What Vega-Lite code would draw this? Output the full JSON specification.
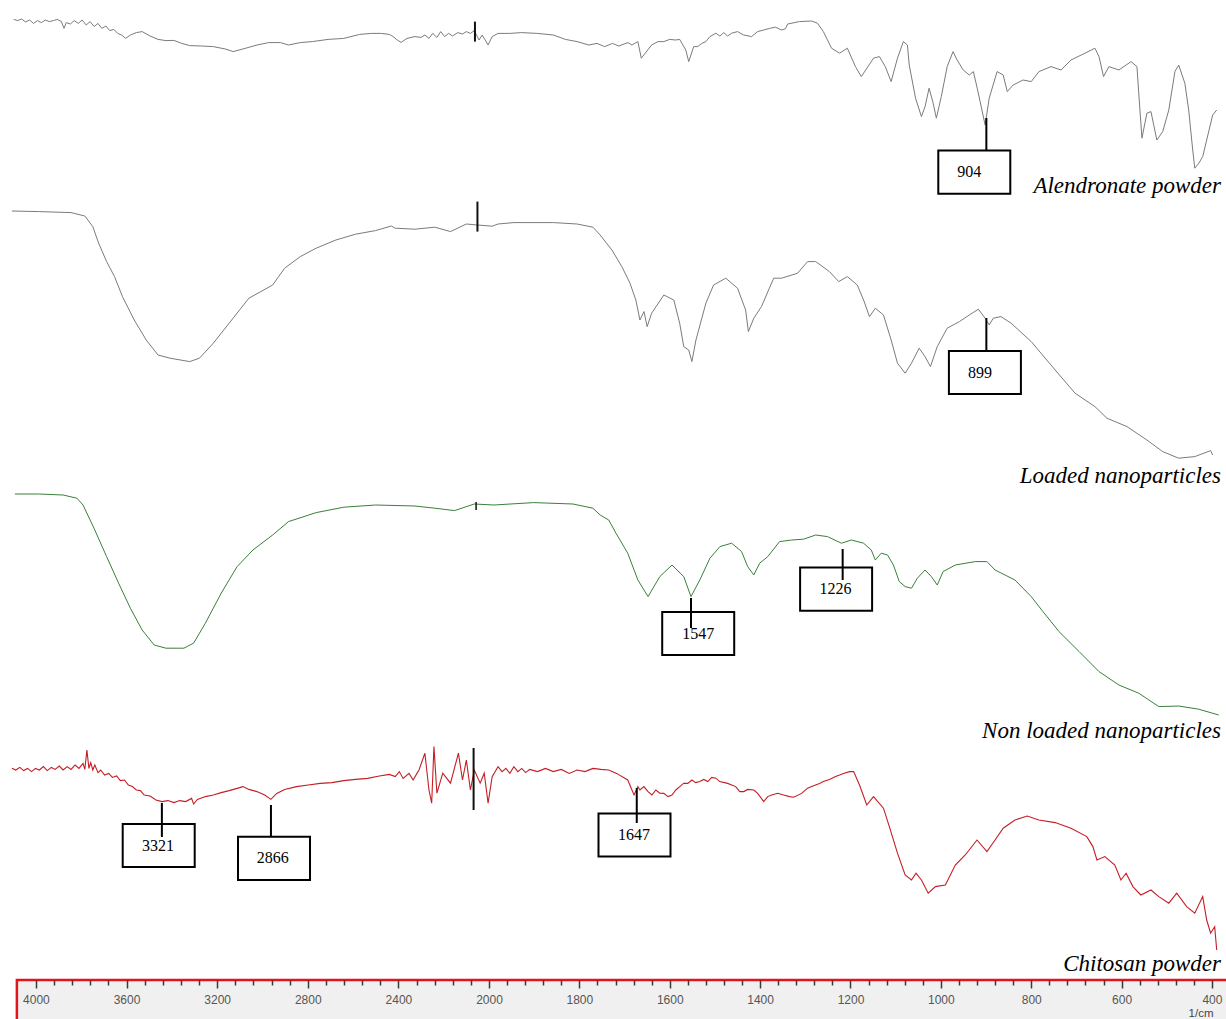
{
  "$schema": "https://vega.github.io/schema/vega-lite/v6.json",
  "width": 1226,
  "height": 1019,
  "autosize": {"type": "fit", "contains": "padding"},
  "padding": 0,
  "background": "white",
  "config": {"view": {"stroke": null}},
  "datasets": {
    "spectra": [
      {"s":"ALN","wn":4098,"t":90.3},{"s":"ALN","wn":4080,"t":89.7},{"s":"ALN","wn":4063,"t":90.5},{"s":"ALN","wn":4045,"t":89},{"s":"ALN","wn":4028,"t":90},{"s":"ALN","wn":4011,"t":88.3},{"s":"ALN","wn":3993,"t":89.7},{"s":"ALN","wn":3976,"t":88.7},{"s":"ALN","wn":3958,"t":90},{"s":"ALN","wn":3941,"t":89.2},{"s":"ALN","wn":3923,"t":89.7},{"s":"ALN","wn":3906,"t":90.3},{"s":"ALN","wn":3888,"t":89.3},{"s":"ALN","wn":3876,"t":85.8},{"s":"ALN","wn":3866,"t":88.7},{"s":"ALN","wn":3848,"t":88},{"s":"ALN","wn":3831,"t":89.7},{"s":"ALN","wn":3813,"t":88.3},{"s":"ALN","wn":3796,"t":90},{"s":"ALN","wn":3778,"t":87.5},{"s":"ALN","wn":3761,"t":89.2},{"s":"ALN","wn":3743,"t":86.7},{"s":"ALN","wn":3726,"t":88.3},{"s":"ALN","wn":3709,"t":85.8},{"s":"ALN","wn":3691,"t":87},{"s":"ALN","wn":3674,"t":84.7},{"s":"ALN","wn":3656,"t":85.3},{"s":"ALN","wn":3639,"t":83.3},{"s":"ALN","wn":3622,"t":82.5},{"s":"ALN","wn":3604,"t":80.8},{"s":"ALN","wn":3583,"t":82.5},{"s":"ALN","wn":3557,"t":83.7},{"s":"ALN","wn":3531,"t":84.2},{"s":"ALN","wn":3496,"t":82},{"s":"ALN","wn":3461,"t":80.3},{"s":"ALN","wn":3426,"t":79.7},{"s":"ALN","wn":3391,"t":79.8},{"s":"ALN","wn":3356,"t":78.3},{"s":"ALN","wn":3321,"t":77.2},{"s":"ALN","wn":3269,"t":77},{"s":"ALN","wn":3217,"t":76.7},{"s":"ALN","wn":3164,"t":75.5},{"s":"ALN","wn":3129,"t":74.2},{"s":"ALN","wn":3077,"t":75.8},{"s":"ALN","wn":3024,"t":77.5},{"s":"ALN","wn":2972,"t":78.7},{"s":"ALN","wn":2920,"t":78.7},{"s":"ALN","wn":2885,"t":77.5},{"s":"ALN","wn":2833,"t":78.7},{"s":"ALN","wn":2780,"t":79.2},{"s":"ALN","wn":2710,"t":80.3},{"s":"ALN","wn":2641,"t":80.8},{"s":"ALN","wn":2571,"t":82.8},{"s":"ALN","wn":2519,"t":83.3},{"s":"ALN","wn":2475,"t":83.3},{"s":"ALN","wn":2440,"t":82.8},{"s":"ALN","wn":2423,"t":81.7},{"s":"ALN","wn":2405,"t":80},{"s":"ALN","wn":2388,"t":78.8},{"s":"ALN","wn":2362,"t":80.8},{"s":"ALN","wn":2327,"t":81.7},{"s":"ALN","wn":2300,"t":81.3},{"s":"ALN","wn":2283,"t":82.5},{"s":"ALN","wn":2265,"t":80.8},{"s":"ALN","wn":2248,"t":83.3},{"s":"ALN","wn":2230,"t":81.3},{"s":"ALN","wn":2213,"t":84.2},{"s":"ALN","wn":2196,"t":81.7},{"s":"ALN","wn":2178,"t":83.3},{"s":"ALN","wn":2161,"t":82},{"s":"ALN","wn":2138,"t":83.7},{"s":"ALN","wn":2117,"t":83},{"s":"ALN","wn":2100,"t":84.2},{"s":"ALN","wn":2082,"t":83.3},{"s":"ALN","wn":2065,"t":84.7},{"s":"ALN","wn":2044,"t":80},{"s":"ALN","wn":2030,"t":82.5},{"s":"ALN","wn":2004,"t":77.5},{"s":"ALN","wn":1993,"t":81.7},{"s":"ALN","wn":1980,"t":83.3},{"s":"ALN","wn":1954,"t":83.3},{"s":"ALN","wn":1928,"t":83.7},{"s":"ALN","wn":1893,"t":83.3},{"s":"ALN","wn":1857.5,"t":82.5},{"s":"ALN","wn":1831,"t":80.3},{"s":"ALN","wn":1805,"t":79.2},{"s":"ALN","wn":1779,"t":77.5},{"s":"ALN","wn":1761,"t":78.3},{"s":"ALN","wn":1744,"t":76.7},{"s":"ALN","wn":1726.5,"t":78.3},{"s":"ALN","wn":1713,"t":77},{"s":"ALN","wn":1692.5,"t":78.7},{"s":"ALN","wn":1683.6,"t":77.5},{"s":"ALN","wn":1670.5,"t":79.2},{"s":"ALN","wn":1663,"t":70.9},{"s":"ALN","wn":1640,"t":77.5},{"s":"ALN","wn":1626,"t":79.2},{"s":"ALN","wn":1613,"t":79.2},{"s":"ALN","wn":1600,"t":80.3},{"s":"ALN","wn":1587,"t":80},{"s":"ALN","wn":1578,"t":80.3},{"s":"ALN","wn":1564.5,"t":75},{"s":"ALN","wn":1558,"t":69.2},{"s":"ALN","wn":1547,"t":76.7},{"s":"ALN","wn":1538,"t":76.7},{"s":"ALN","wn":1529,"t":78.3},{"s":"ALN","wn":1520,"t":79.2},{"s":"ALN","wn":1511,"t":81.7},{"s":"ALN","wn":1498,"t":83.4},{"s":"ALN","wn":1489,"t":82},{"s":"ALN","wn":1480.4,"t":83.7},{"s":"ALN","wn":1472,"t":82},{"s":"ALN","wn":1463,"t":83.4},{"s":"ALN","wn":1450,"t":84.2},{"s":"ALN","wn":1436.5,"t":82.5},{"s":"ALN","wn":1419,"t":81.7},{"s":"ALN","wn":1405.5,"t":84.2},{"s":"ALN","wn":1392,"t":85},{"s":"ALN","wn":1379,"t":85.8},{"s":"ALN","wn":1366,"t":86.4},{"s":"ALN","wn":1352.5,"t":85},{"s":"ALN","wn":1344,"t":85.6},{"s":"ALN","wn":1339,"t":88},{"s":"ALN","wn":1313,"t":89.2},{"s":"ALN","wn":1286,"t":89.5},{"s":"ALN","wn":1273,"t":88.4},{"s":"ALN","wn":1260,"t":84.2},{"s":"ALN","wn":1242,"t":75.9},{"s":"ALN","wn":1224,"t":73.4},{"s":"ALN","wn":1207,"t":75.9},{"s":"ALN","wn":1189,"t":66.7},{"s":"ALN","wn":1176,"t":61.7},{"s":"ALN","wn":1149,"t":70.9},{"s":"ALN","wn":1136,"t":71.7},{"s":"ALN","wn":1123,"t":66.7},{"s":"ALN","wn":1110,"t":59.2},{"s":"ALN","wn":1096,"t":70.9},{"s":"ALN","wn":1083,"t":79.2},{"s":"ALN","wn":1074,"t":77.5},{"s":"ALN","wn":1070,"t":67.5},{"s":"ALN","wn":1056,"t":50.9},{"s":"ALN","wn":1043,"t":41.7},{"s":"ALN","wn":1035,"t":46.7},{"s":"ALN","wn":1026,"t":55.9},{"s":"ALN","wn":1017,"t":48.4},{"s":"ALN","wn":1010,"t":40.9},{"s":"ALN","wn":999,"t":51.7},{"s":"ALN","wn":986,"t":66.7},{"s":"ALN","wn":973,"t":74.2},{"s":"ALN","wn":964,"t":70},{"s":"ALN","wn":950.5,"t":65},{"s":"ALN","wn":937,"t":62.5},{"s":"ALN","wn":928,"t":64.2},{"s":"ALN","wn":919.5,"t":55.9},{"s":"ALN","wn":902,"t":37.5},{"s":"ALN","wn":893,"t":50.9},{"s":"ALN","wn":875.5,"t":64.2},{"s":"ALN","wn":862,"t":62.5},{"s":"ALN","wn":853,"t":54.2},{"s":"ALN","wn":840,"t":57.5},{"s":"ALN","wn":818,"t":60},{"s":"ALN","wn":800,"t":59.2},{"s":"ALN","wn":783,"t":64.2},{"s":"ALN","wn":756,"t":66.7},{"s":"ALN","wn":734,"t":65},{"s":"ALN","wn":712,"t":70},{"s":"ALN","wn":681,"t":73.4},{"s":"ALN","wn":659,"t":75.9},{"s":"ALN","wn":650,"t":71.7},{"s":"ALN","wn":640,"t":61.7},{"s":"ALN","wn":628,"t":66.7},{"s":"ALN","wn":606,"t":65},{"s":"ALN","wn":579,"t":69.2},{"s":"ALN","wn":566,"t":66.7},{"s":"ALN","wn":562,"t":53.4},{"s":"ALN","wn":555,"t":30.9},{"s":"ALN","wn":544,"t":43.4},{"s":"ALN","wn":535,"t":44.2},{"s":"ALN","wn":522,"t":30},{"s":"ALN","wn":509,"t":34.2},{"s":"ALN","wn":495.5,"t":45},{"s":"ALN","wn":482,"t":64.2},{"s":"ALN","wn":473.6,"t":67.5},{"s":"ALN","wn":460,"t":58.4},{"s":"ALN","wn":451.5,"t":45},{"s":"ALN","wn":442.6,"t":25},{"s":"ALN","wn":438,"t":15.9},{"s":"ALN","wn":429,"t":18.4},{"s":"ALN","wn":420.5,"t":21.7},{"s":"ALN","wn":411.7,"t":30},{"s":"ALN","wn":398.4,"t":42.5},{"s":"ALN","wn":389.5,"t":45},
      {"s":"LNP","wn":4106,"t":139.5},{"s":"LNP","wn":3985,"t":139.2},{"s":"LNP","wn":3845,"t":138.7},{"s":"LNP","wn":3784,"t":137},{"s":"LNP","wn":3749,"t":131.7},{"s":"LNP","wn":3723,"t":123.4},{"s":"LNP","wn":3688,"t":114.2},{"s":"LNP","wn":3653,"t":106.7},{"s":"LNP","wn":3618,"t":96.7},{"s":"LNP","wn":3566,"t":85},{"s":"LNP","wn":3513,"t":75},{"s":"LNP","wn":3461,"t":67.5},{"s":"LNP","wn":3408,"t":65.9},{"s":"LNP","wn":3321,"t":64.2},{"s":"LNP","wn":3278,"t":65.9},{"s":"LNP","wn":3217,"t":73.4},{"s":"LNP","wn":3147,"t":83.4},{"s":"LNP","wn":3060,"t":95.9},{"s":"LNP","wn":3007,"t":99.2},{"s":"LNP","wn":2955,"t":102.5},{"s":"LNP","wn":2902,"t":110.9},{"s":"LNP","wn":2833,"t":116.7},{"s":"LNP","wn":2763,"t":120.9},{"s":"LNP","wn":2676,"t":125},{"s":"LNP","wn":2589,"t":127.9},{"s":"LNP","wn":2501,"t":129.7},{"s":"LNP","wn":2431,"t":132},{"s":"LNP","wn":2414,"t":130.9},{"s":"LNP","wn":2327,"t":130.4},{"s":"LNP","wn":2239,"t":131.4},{"s":"LNP","wn":2170,"t":129.2},{"s":"LNP","wn":2100,"t":133},{"s":"LNP","wn":2051,"t":132.5},{"s":"LNP","wn":1993,"t":131.9},{"s":"LNP","wn":1980,"t":133},{"s":"LNP","wn":1945,"t":133.7},{"s":"LNP","wn":1857.5,"t":133.7},{"s":"LNP","wn":1805,"t":133},{"s":"LNP","wn":1770,"t":131.4},{"s":"LNP","wn":1754,"t":127.5},{"s":"LNP","wn":1728,"t":120},{"s":"LNP","wn":1706,"t":111.7},{"s":"LNP","wn":1688,"t":103.4},{"s":"LNP","wn":1675,"t":95},{"s":"LNP","wn":1666,"t":85},{"s":"LNP","wn":1657,"t":89.2},{"s":"LNP","wn":1650,"t":81.7},{"s":"LNP","wn":1640,"t":88.4},{"s":"LNP","wn":1613,"t":97.5},{"s":"LNP","wn":1591,"t":95},{"s":"LNP","wn":1578,"t":83.4},{"s":"LNP","wn":1569,"t":71.7},{"s":"LNP","wn":1558,"t":70},{"s":"LNP","wn":1551,"t":64.2},{"s":"LNP","wn":1542,"t":75},{"s":"LNP","wn":1520,"t":93.4},{"s":"LNP","wn":1503,"t":102.5},{"s":"LNP","wn":1476,"t":105.9},{"s":"LNP","wn":1450,"t":100.9},{"s":"LNP","wn":1432,"t":90},{"s":"LNP","wn":1426,"t":79.2},{"s":"LNP","wn":1414,"t":85.9},{"s":"LNP","wn":1397,"t":91.7},{"s":"LNP","wn":1370,"t":105.9},{"s":"LNP","wn":1352.5,"t":105.9},{"s":"LNP","wn":1317,"t":108.4},{"s":"LNP","wn":1295,"t":114.2},{"s":"LNP","wn":1277,"t":114.2},{"s":"LNP","wn":1246.5,"t":109.2},{"s":"LNP","wn":1226,"t":104.2},{"s":"LNP","wn":1207,"t":106.7},{"s":"LNP","wn":1185,"t":102.5},{"s":"LNP","wn":1171,"t":95},{"s":"LNP","wn":1158,"t":86.7},{"s":"LNP","wn":1145,"t":90.9},{"s":"LNP","wn":1127,"t":87.5},{"s":"LNP","wn":1110,"t":75},{"s":"LNP","wn":1096,"t":63.4},{"s":"LNP","wn":1079,"t":58.4},{"s":"LNP","wn":1065,"t":63.4},{"s":"LNP","wn":1048,"t":70.9},{"s":"LNP","wn":1035,"t":66.7},{"s":"LNP","wn":1023,"t":61.7},{"s":"LNP","wn":1008,"t":71.7},{"s":"LNP","wn":986,"t":80.9},{"s":"LNP","wn":959,"t":84.2},{"s":"LNP","wn":937,"t":87.5},{"s":"LNP","wn":917,"t":90.4},{"s":"LNP","wn":902,"t":85.9},{"s":"LNP","wn":893,"t":82.5},{"s":"LNP","wn":884,"t":85.9},{"s":"LNP","wn":867,"t":86.7},{"s":"LNP","wn":844.5,"t":83.4},{"s":"LNP","wn":800,"t":74.2},{"s":"LNP","wn":747,"t":60},{"s":"LNP","wn":703,"t":48.4},{"s":"LNP","wn":659,"t":41.7},{"s":"LNP","wn":632.5,"t":35.9},{"s":"LNP","wn":588,"t":31.7},{"s":"LNP","wn":544,"t":25},{"s":"LNP","wn":509,"t":19.2},{"s":"LNP","wn":473.6,"t":15.9},{"s":"LNP","wn":438,"t":16.7},{"s":"LNP","wn":403,"t":19.7},{"s":"LNP","wn":398.4,"t":17.5},
      {"s":"NLNP","wn":4093,"t":126},{"s":"NLNP","wn":3985,"t":126},{"s":"NLNP","wn":3880,"t":125.5},{"s":"NLNP","wn":3819,"t":123.9},{"s":"NLNP","wn":3792,"t":120.5},{"s":"NLNP","wn":3740,"t":108},{"s":"NLNP","wn":3688,"t":94.7},{"s":"NLNP","wn":3635,"t":81.4},{"s":"NLNP","wn":3583,"t":68.9},{"s":"NLNP","wn":3531,"t":58},{"s":"NLNP","wn":3478,"t":50.5},{"s":"NLNP","wn":3426,"t":48.9},{"s":"NLNP","wn":3347,"t":48.9},{"s":"NLNP","wn":3304,"t":51.4},{"s":"NLNP","wn":3252,"t":61.4},{"s":"NLNP","wn":3182,"t":76.4},{"s":"NLNP","wn":3112,"t":89.7},{"s":"NLNP","wn":3042,"t":98},{"s":"NLNP","wn":2955,"t":105.5},{"s":"NLNP","wn":2885,"t":112.2},{"s":"NLNP","wn":2763,"t":116.7},{"s":"NLNP","wn":2641,"t":119.4},{"s":"NLNP","wn":2501,"t":120.5},{"s":"NLNP","wn":2327,"t":120},{"s":"NLNP","wn":2239,"t":118.9},{"s":"NLNP","wn":2152,"t":117.7},{"s":"NLNP","wn":2065,"t":121},{"s":"NLNP","wn":1989,"t":120.5},{"s":"NLNP","wn":1901,"t":121.7},{"s":"NLNP","wn":1814,"t":121},{"s":"NLNP","wn":1770,"t":118.9},{"s":"NLNP","wn":1754,"t":115.5},{"s":"NLNP","wn":1735,"t":113},{"s":"NLNP","wn":1719,"t":106.4},{"s":"NLNP","wn":1693,"t":96.4},{"s":"NLNP","wn":1670.5,"t":83},{"s":"NLNP","wn":1648,"t":74.7},{"s":"NLNP","wn":1622,"t":84.7},{"s":"NLNP","wn":1595,"t":90.5},{"s":"NLNP","wn":1569,"t":84.7},{"s":"NLNP","wn":1553,"t":74.7},{"s":"NLNP","wn":1533.5,"t":83},{"s":"NLNP","wn":1511,"t":93.9},{"s":"NLNP","wn":1489,"t":99.7},{"s":"NLNP","wn":1463,"t":101.4},{"s":"NLNP","wn":1441,"t":97.2},{"s":"NLNP","wn":1427.5,"t":89.7},{"s":"NLNP","wn":1414,"t":85.5},{"s":"NLNP","wn":1401,"t":91.4},{"s":"NLNP","wn":1383,"t":94.7},{"s":"NLNP","wn":1357,"t":102.2},{"s":"NLNP","wn":1330,"t":103},{"s":"NLNP","wn":1304,"t":103.4},{"s":"NLNP","wn":1277,"t":105.5},{"s":"NLNP","wn":1251,"t":104.7},{"s":"NLNP","wn":1220,"t":101.4},{"s":"NLNP","wn":1198,"t":103},{"s":"NLNP","wn":1171,"t":101.4},{"s":"NLNP","wn":1154,"t":98},{"s":"NLNP","wn":1145,"t":93},{"s":"NLNP","wn":1132,"t":96.4},{"s":"NLNP","wn":1118,"t":95.5},{"s":"NLNP","wn":1105,"t":90.5},{"s":"NLNP","wn":1092,"t":82.2},{"s":"NLNP","wn":1079,"t":79.7},{"s":"NLNP","wn":1065,"t":78.9},{"s":"NLNP","wn":1052,"t":83.9},{"s":"NLNP","wn":1035,"t":88},{"s":"NLNP","wn":1021,"t":84.7},{"s":"NLNP","wn":1008,"t":80.5},{"s":"NLNP","wn":995,"t":87.2},{"s":"NLNP","wn":968,"t":90.5},{"s":"NLNP","wn":924,"t":92.2},{"s":"NLNP","wn":898,"t":92.2},{"s":"NLNP","wn":880,"t":88},{"s":"NLNP","wn":836,"t":83},{"s":"NLNP","wn":800,"t":74.7},{"s":"NLNP","wn":774,"t":67.2},{"s":"NLNP","wn":738.5,"t":57.2},{"s":"NLNP","wn":694,"t":47.2},{"s":"NLNP","wn":650,"t":37.2},{"s":"NLNP","wn":606,"t":30.5},{"s":"NLNP","wn":562,"t":26.4},{"s":"NLNP","wn":517.6,"t":19.7},{"s":"NLNP","wn":473.6,"t":20},{"s":"NLNP","wn":429.4,"t":18.4},{"s":"NLNP","wn":385,"t":15.5},
      {"s":"CS","wn":4106,"t":105.9},{"s":"CS","wn":4089,"t":105},{"s":"CS","wn":4071,"t":106.3},{"s":"CS","wn":4054,"t":104.7},{"s":"CS","wn":4037,"t":105.8},{"s":"CS","wn":4019,"t":104.2},{"s":"CS","wn":4002,"t":105.8},{"s":"CS","wn":3985,"t":105},{"s":"CS","wn":3967,"t":106.7},{"s":"CS","wn":3950,"t":104.7},{"s":"CS","wn":3932,"t":106.3},{"s":"CS","wn":3915,"t":105.3},{"s":"CS","wn":3897,"t":107},{"s":"CS","wn":3880,"t":105},{"s":"CS","wn":3862,"t":106.7},{"s":"CS","wn":3845,"t":105.3},{"s":"CS","wn":3827,"t":107.5},{"s":"CS","wn":3810,"t":105.8},{"s":"CS","wn":3792,"t":108.3},{"s":"CS","wn":3784,"t":105.3},{"s":"CS","wn":3775,"t":115},{"s":"CS","wn":3766,"t":105.8},{"s":"CS","wn":3758,"t":108.7},{"s":"CS","wn":3749,"t":105},{"s":"CS","wn":3740,"t":107.5},{"s":"CS","wn":3726,"t":103.7},{"s":"CS","wn":3714,"t":105},{"s":"CS","wn":3697,"t":102.5},{"s":"CS","wn":3679,"t":103.3},{"s":"CS","wn":3662,"t":101.3},{"s":"CS","wn":3644,"t":102},{"s":"CS","wn":3627,"t":99.7},{"s":"CS","wn":3609,"t":100},{"s":"CS","wn":3592,"t":97.5},{"s":"CS","wn":3574,"t":96.7},{"s":"CS","wn":3557,"t":95},{"s":"CS","wn":3539,"t":94.7},{"s":"CS","wn":3522,"t":92.5},{"s":"CS","wn":3496,"t":92},{"s":"CS","wn":3470,"t":90},{"s":"CS","wn":3444,"t":89.2},{"s":"CS","wn":3417,"t":89.7},{"s":"CS","wn":3391,"t":88.7},{"s":"CS","wn":3365,"t":89.7},{"s":"CS","wn":3339,"t":89.2},{"s":"CS","wn":3313,"t":90.8},{"s":"CS","wn":3304,"t":88},{"s":"CS","wn":3287,"t":90.3},{"s":"CS","wn":3252,"t":91.7},{"s":"CS","wn":3217,"t":92.5},{"s":"CS","wn":3182,"t":93.7},{"s":"CS","wn":3147,"t":94.7},{"s":"CS","wn":3112,"t":95.8},{"s":"CS","wn":3086,"t":96.7},{"s":"CS","wn":3060,"t":95.3},{"s":"CS","wn":3025,"t":94.2},{"s":"CS","wn":2990,"t":92.5},{"s":"CS","wn":2963,"t":90.3},{"s":"CS","wn":2937,"t":93.3},{"s":"CS","wn":2902,"t":95.3},{"s":"CS","wn":2850,"t":96.7},{"s":"CS","wn":2798,"t":97.5},{"s":"CS","wn":2745,"t":98.3},{"s":"CS","wn":2693,"t":98.7},{"s":"CS","wn":2641,"t":99.7},{"s":"CS","wn":2589,"t":100.3},{"s":"CS","wn":2536,"t":100.8},{"s":"CS","wn":2484,"t":102},{"s":"CS","wn":2440,"t":102.8},{"s":"CS","wn":2414,"t":101.7},{"s":"CS","wn":2396,"t":104.2},{"s":"CS","wn":2379,"t":100.8},{"s":"CS","wn":2353,"t":103.3},{"s":"CS","wn":2335,"t":100},{"s":"CS","wn":2318,"t":103.3},{"s":"CS","wn":2309,"t":105},{"s":"CS","wn":2283,"t":113.4},{"s":"CS","wn":2265,"t":95},{"s":"CS","wn":2253,"t":88.4},{"s":"CS","wn":2243,"t":116.7},{"s":"CS","wn":2230,"t":93.4},{"s":"CS","wn":2204,"t":103.4},{"s":"CS","wn":2170,"t":98.4},{"s":"CS","wn":2135,"t":113.4},{"s":"CS","wn":2117,"t":100},{"s":"CS","wn":2100,"t":110},{"s":"CS","wn":2082,"t":95},{"s":"CS","wn":2065,"t":105},{"s":"CS","wn":2039,"t":98.4},{"s":"CS","wn":2021,"t":103.4},{"s":"CS","wn":2004,"t":88.4},{"s":"CS","wn":1993,"t":101.7},{"s":"CS","wn":1980,"t":106.7},{"s":"CS","wn":1971,"t":104.2},{"s":"CS","wn":1962.6,"t":105.8},{"s":"CS","wn":1953.8,"t":103.3},{"s":"CS","wn":1945,"t":106.7},{"s":"CS","wn":1936,"t":104.2},{"s":"CS","wn":1927.6,"t":105.8},{"s":"CS","wn":1918.8,"t":103.7},{"s":"CS","wn":1910,"t":105.3},{"s":"CS","wn":1892.7,"t":104.2},{"s":"CS","wn":1875,"t":105.8},{"s":"CS","wn":1857.5,"t":104.2},{"s":"CS","wn":1840,"t":105.3},{"s":"CS","wn":1822.5,"t":103.3},{"s":"CS","wn":1805,"t":105},{"s":"CS","wn":1787.6,"t":104.2},{"s":"CS","wn":1770,"t":105.8},{"s":"CS","wn":1752.6,"t":105.3},{"s":"CS","wn":1735,"t":105},{"s":"CS","wn":1717.6,"t":103.3},{"s":"CS","wn":1693,"t":100},{"s":"CS","wn":1679,"t":92.5},{"s":"CS","wn":1670.5,"t":96.7},{"s":"CS","wn":1666,"t":95},{"s":"CS","wn":1657.2,"t":96.7},{"s":"CS","wn":1648,"t":94.2},{"s":"CS","wn":1639.5,"t":92.5},{"s":"CS","wn":1630.7,"t":95},{"s":"CS","wn":1622,"t":93.4},{"s":"CS","wn":1613,"t":93.3},{"s":"CS","wn":1604,"t":91.7},{"s":"CS","wn":1595,"t":92.5},{"s":"CS","wn":1586.6,"t":95},{"s":"CS","wn":1577.8,"t":96.7},{"s":"CS","wn":1569,"t":98.4},{"s":"CS","wn":1560,"t":98.3},{"s":"CS","wn":1551,"t":100},{"s":"CS","wn":1542.4,"t":98.7},{"s":"CS","wn":1533.5,"t":99.2},{"s":"CS","wn":1524.7,"t":100.3},{"s":"CS","wn":1515.8,"t":99.2},{"s":"CS","wn":1507,"t":101.3},{"s":"CS","wn":1498,"t":100.9},{"s":"CS","wn":1489.3,"t":99.2},{"s":"CS","wn":1471.8,"t":98.3},{"s":"CS","wn":1463,"t":97.5},{"s":"CS","wn":1454,"t":96.7},{"s":"CS","wn":1445,"t":94.2},{"s":"CS","wn":1436,"t":94.2},{"s":"CS","wn":1427.5,"t":95.3},{"s":"CS","wn":1414,"t":95},{"s":"CS","wn":1405.4,"t":93.3},{"s":"CS","wn":1392,"t":89.2},{"s":"CS","wn":1383.3,"t":91.7},{"s":"CS","wn":1374.4,"t":92.5},{"s":"CS","wn":1361,"t":93.4},{"s":"CS","wn":1348,"t":92.5},{"s":"CS","wn":1335,"t":91.7},{"s":"CS","wn":1326,"t":91.4},{"s":"CS","wn":1308,"t":93.3},{"s":"CS","wn":1295,"t":95.9},{"s":"CS","wn":1286,"t":96.7},{"s":"CS","wn":1268.5,"t":98.3},{"s":"CS","wn":1260,"t":99.2},{"s":"CS","wn":1246.5,"t":100.3},{"s":"CS","wn":1233,"t":101.7},{"s":"CS","wn":1224,"t":102.5},{"s":"CS","wn":1215.6,"t":103.3},{"s":"CS","wn":1202,"t":104.2},{"s":"CS","wn":1193,"t":104.2},{"s":"CS","wn":1180,"t":97.5},{"s":"CS","wn":1164,"t":87.5},{"s":"CS","wn":1149,"t":91.7},{"s":"CS","wn":1127,"t":85.9},{"s":"CS","wn":1114,"t":76.7},{"s":"CS","wn":1096,"t":63.4},{"s":"CS","wn":1079,"t":52.5},{"s":"CS","wn":1065,"t":50},{"s":"CS","wn":1055,"t":53.4},{"s":"CS","wn":1043,"t":50},{"s":"CS","wn":1028,"t":43.4},{"s":"CS","wn":1012,"t":46.7},{"s":"CS","wn":990,"t":47.5},{"s":"CS","wn":968,"t":57.5},{"s":"CS","wn":946,"t":62.5},{"s":"CS","wn":920,"t":70},{"s":"CS","wn":898,"t":64.2},{"s":"CS","wn":880,"t":70},{"s":"CS","wn":862,"t":75.9},{"s":"CS","wn":836,"t":80},{"s":"CS","wn":809,"t":82},{"s":"CS","wn":783,"t":80},{"s":"CS","wn":747,"t":78.7},{"s":"CS","wn":712,"t":75.9},{"s":"CS","wn":677,"t":71.7},{"s":"CS","wn":663.5,"t":66.7},{"s":"CS","wn":654.6,"t":60},{"s":"CS","wn":637,"t":61.7},{"s":"CS","wn":615,"t":57.5},{"s":"CS","wn":601.5,"t":50},{"s":"CS","wn":590,"t":53.4},{"s":"CS","wn":575,"t":46.7},{"s":"CS","wn":557.5,"t":42.5},{"s":"CS","wn":535,"t":45},{"s":"CS","wn":517.6,"t":41.7},{"s":"CS","wn":495.5,"t":38.4},{"s":"CS","wn":478,"t":43.4},{"s":"CS","wn":456,"t":36.7},{"s":"CS","wn":438,"t":33.4},{"s":"CS","wn":420.5,"t":41.7},{"s":"CS","wn":411.7,"t":30},{"s":"CS","wn":403,"t":23.4},{"s":"CS","wn":394,"t":26.7},{"s":"CS","wn":389.5,"t":15}
    ],
    "peaks": [
      {"s":"ALN","label":"904","wn":899.3,"tip":41,"foot":25,"bx":926,"by":13.9,"tx":937},
      {"s":"LNP","label":"899","wn":899.3,"tip":86,"foot":70,"bx":902.5,"by":58.75,"tx":913.5},
      {"s":"NLNP","label":"1547","wn":1553,"tip":74,"foot":59,"bx":1537,"by":56.25,"tx":1537},
      {"s":"NLNP","label":"1226","wn":1217.3,"tip":98.5,"foot":83,"bx":1231.8,"by":78.4,"tx":1233},
      {"s":"CS","label":"3321","wn":3444,"tip":88.5,"foot":71.5,"bx":3458,"by":67.25,"tx":3461},
      {"s":"CS","label":"2866","wn":2962.5,"tip":87.5,"foot":71.5,"bx":2949,"by":60.8,"tx":2955},
      {"s":"CS","label":"1647","wn":1673,"tip":96,"foot":78.5,"bx":1678,"by":72.5,"tx":1679}
    ],
    "markers": [
      {"s":"ALN","wn":2062,"top":89.2,"bot":79.2},
      {"s":"LNP","wn":2051,"top":144.2,"bot":129.2},
      {"s":"NLNP","wn":2057,"top":122,"bot":118},
      {"s":"CS","wn":2068,"top":116,"bot":85}
    ],
    "names": [
      {"s":"ALN","name":"Alendronate powder","wn":380,"t":3.5},
      {"s":"LNP","name":"Loaded nanoparticles","wn":380,"t":3.5},
      {"s":"NLNP","name":"Non loaded nanoparticles","wn":380,"t":4},
      {"s":"CS","name":"Chitosan powder","wn":380,"t":4.5}
    ],
    "axisbox": [{"from":4084,"to":340,"top":0,"bottom":-30}]
  },
  "layer": [
    {
      "layer": [
        {"data":{"name":"spectra"},"transform":[{"filter":"datum.s==='ALN'"}],
         "mark":{"type":"line","color":"#7b7b7b","strokeWidth":1},
         "encoding":{"x":{"field":"wn","type":"quantitative","scale":{"domain":[4110,2000,380],"range":[11,489,1221],"nice":false,"zero":false},"axis":null},
                     "y":{"field":"t","type":"quantitative","scale":{"domain":[-409.5,100],"nice":false,"zero":false},"axis":null}}},
        {"data":{"name":"markers"},"transform":[{"filter":"datum.s==='ALN'"}],
         "mark":{"type":"rule","color":"#111111","strokeWidth":2},
         "encoding":{"x":{"field":"wn","type":"quantitative","scale":{"domain":[4110,2000,380],"range":[11,489,1221],"nice":false,"zero":false},"axis":null},
                     "y":{"field":"top","type":"quantitative","scale":{"domain":[-409.5,100],"nice":false,"zero":false},"axis":null},"y2":{"field":"bot"}}},
        {"data":{"name":"peaks"},"transform":[{"filter":"datum.s==='ALN'"}],
         "mark":{"type":"point","shape":"M-1,-0.6H1V0.6H-1Z","size":5184,"filled":true,"fill":"white","stroke":"black","strokeWidth":2,"opacity":1},
         "encoding":{"x":{"field":"bx","type":"quantitative","scale":{"domain":[4110,2000,380],"range":[11,489,1221],"nice":false,"zero":false},"axis":null},
                     "y":{"field":"by","type":"quantitative","scale":{"domain":[-409.5,100],"nice":false,"zero":false},"axis":null}}},
        {"data":{"name":"peaks"},"transform":[{"filter":"datum.s==='ALN'"}],
         "mark":{"type":"rule","color":"black","strokeWidth":2},
         "encoding":{"x":{"field":"wn","type":"quantitative","scale":{"domain":[4110,2000,380],"range":[11,489,1221],"nice":false,"zero":false},"axis":null},
                     "y":{"field":"tip","type":"quantitative","scale":{"domain":[-409.5,100],"nice":false,"zero":false},"axis":null},"y2":{"field":"foot"}}},
        {"data":{"name":"peaks"},"transform":[{"filter":"datum.s==='ALN'"}],
         "mark":{"type":"text","font":"Liberation Serif","fontSize":16,"align":"center","baseline":"middle","color":"black"},
         "encoding":{"x":{"field":"tx","type":"quantitative","scale":{"domain":[4110,2000,380],"range":[11,489,1221],"nice":false,"zero":false},"axis":null},
                     "y":{"field":"by","type":"quantitative","scale":{"domain":[-409.5,100],"nice":false,"zero":false},"axis":null},"text":{"field":"label"}}},
        {"data":{"name":"names"},"transform":[{"filter":"datum.s==='ALN'"}],
         "mark":{"type":"text","font":"Liberation Serif","fontSize":23,"fontStyle":"italic","align":"right","baseline":"alphabetic","color":"black"},
         "encoding":{"x":{"field":"wn","type":"quantitative","scale":{"domain":[4110,2000,380],"range":[11,489,1221],"nice":false,"zero":false},"axis":null},
                     "y":{"field":"t","type":"quantitative","scale":{"domain":[-409.5,100],"nice":false,"zero":false},"axis":null},"text":{"field":"name"}}}
      ]
    },
    {
      "layer": [
        {"data":{"name":"spectra"},"transform":[{"filter":"datum.s==='LNP'"}],
         "mark":{"type":"line","color":"#7b7b7b","strokeWidth":1},
         "encoding":{"x":{"field":"wn","type":"quantitative","scale":{"domain":[4110,2000,380],"range":[11,489,1221],"nice":false,"zero":false},"axis":null},
                     "y":{"field":"t","type":"quantitative","scale":{"domain":[-264.5,245],"nice":false,"zero":false},"axis":null}}},
        {"data":{"name":"markers"},"transform":[{"filter":"datum.s==='LNP'"}],
         "mark":{"type":"rule","color":"#111111","strokeWidth":2},
         "encoding":{"x":{"field":"wn","type":"quantitative","scale":{"domain":[4110,2000,380],"range":[11,489,1221],"nice":false,"zero":false},"axis":null},
                     "y":{"field":"top","type":"quantitative","scale":{"domain":[-264.5,245],"nice":false,"zero":false},"axis":null},"y2":{"field":"bot"}}},
        {"data":{"name":"peaks"},"transform":[{"filter":"datum.s==='LNP'"}],
         "mark":{"type":"point","shape":"M-1,-0.6H1V0.6H-1Z","size":5184,"filled":true,"fill":"white","stroke":"black","strokeWidth":2,"opacity":1},
         "encoding":{"x":{"field":"bx","type":"quantitative","scale":{"domain":[4110,2000,380],"range":[11,489,1221],"nice":false,"zero":false},"axis":null},
                     "y":{"field":"by","type":"quantitative","scale":{"domain":[-264.5,245],"nice":false,"zero":false},"axis":null}}},
        {"data":{"name":"peaks"},"transform":[{"filter":"datum.s==='LNP'"}],
         "mark":{"type":"rule","color":"black","strokeWidth":2},
         "encoding":{"x":{"field":"wn","type":"quantitative","scale":{"domain":[4110,2000,380],"range":[11,489,1221],"nice":false,"zero":false},"axis":null},
                     "y":{"field":"tip","type":"quantitative","scale":{"domain":[-264.5,245],"nice":false,"zero":false},"axis":null},"y2":{"field":"foot"}}},
        {"data":{"name":"peaks"},"transform":[{"filter":"datum.s==='LNP'"}],
         "mark":{"type":"text","font":"Liberation Serif","fontSize":16,"align":"center","baseline":"middle","color":"black"},
         "encoding":{"x":{"field":"tx","type":"quantitative","scale":{"domain":[4110,2000,380],"range":[11,489,1221],"nice":false,"zero":false},"axis":null},
                     "y":{"field":"by","type":"quantitative","scale":{"domain":[-264.5,245],"nice":false,"zero":false},"axis":null},"text":{"field":"label"}}},
        {"data":{"name":"names"},"transform":[{"filter":"datum.s==='LNP'"}],
         "mark":{"type":"text","font":"Liberation Serif","fontSize":23,"fontStyle":"italic","align":"right","baseline":"alphabetic","color":"black"},
         "encoding":{"x":{"field":"wn","type":"quantitative","scale":{"domain":[4110,2000,380],"range":[11,489,1221],"nice":false,"zero":false},"axis":null},
                     "y":{"field":"t","type":"quantitative","scale":{"domain":[-264.5,245],"nice":false,"zero":false},"axis":null},"text":{"field":"name"}}}
      ]
    },
    {
      "layer": [
        {"data":{"name":"spectra"},"transform":[{"filter":"datum.s==='NLNP'"}],
         "mark":{"type":"line","color":"#3a7f3a","strokeWidth":1},
         "encoding":{"x":{"field":"wn","type":"quantitative","scale":{"domain":[4110,2000,380],"range":[11,489,1221],"nice":false,"zero":false},"axis":null},
                     "y":{"field":"t","type":"quantitative","scale":{"domain":[-136.5,373],"nice":false,"zero":false},"axis":null}}},
        {"data":{"name":"markers"},"transform":[{"filter":"datum.s==='NLNP'"}],
         "mark":{"type":"rule","color":"#111111","strokeWidth":1.5},
         "encoding":{"x":{"field":"wn","type":"quantitative","scale":{"domain":[4110,2000,380],"range":[11,489,1221],"nice":false,"zero":false},"axis":null},
                     "y":{"field":"top","type":"quantitative","scale":{"domain":[-136.5,373],"nice":false,"zero":false},"axis":null},"y2":{"field":"bot"}}},
        {"data":{"name":"peaks"},"transform":[{"filter":"datum.s==='NLNP'"}],
         "mark":{"type":"point","shape":"M-1,-0.6H1V0.6H-1Z","size":5184,"filled":true,"fill":"white","stroke":"black","strokeWidth":2,"opacity":1},
         "encoding":{"x":{"field":"bx","type":"quantitative","scale":{"domain":[4110,2000,380],"range":[11,489,1221],"nice":false,"zero":false},"axis":null},
                     "y":{"field":"by","type":"quantitative","scale":{"domain":[-136.5,373],"nice":false,"zero":false},"axis":null}}},
        {"data":{"name":"peaks"},"transform":[{"filter":"datum.s==='NLNP'"}],
         "mark":{"type":"rule","color":"black","strokeWidth":2},
         "encoding":{"x":{"field":"wn","type":"quantitative","scale":{"domain":[4110,2000,380],"range":[11,489,1221],"nice":false,"zero":false},"axis":null},
                     "y":{"field":"tip","type":"quantitative","scale":{"domain":[-136.5,373],"nice":false,"zero":false},"axis":null},"y2":{"field":"foot"}}},
        {"data":{"name":"peaks"},"transform":[{"filter":"datum.s==='NLNP'"}],
         "mark":{"type":"text","font":"Liberation Serif","fontSize":16,"align":"center","baseline":"middle","color":"black"},
         "encoding":{"x":{"field":"tx","type":"quantitative","scale":{"domain":[4110,2000,380],"range":[11,489,1221],"nice":false,"zero":false},"axis":null},
                     "y":{"field":"by","type":"quantitative","scale":{"domain":[-136.5,373],"nice":false,"zero":false},"axis":null},"text":{"field":"label"}}},
        {"data":{"name":"names"},"transform":[{"filter":"datum.s==='NLNP'"}],
         "mark":{"type":"text","font":"Liberation Serif","fontSize":23,"fontStyle":"italic","align":"right","baseline":"alphabetic","color":"black"},
         "encoding":{"x":{"field":"wn","type":"quantitative","scale":{"domain":[4110,2000,380],"range":[11,489,1221],"nice":false,"zero":false},"axis":null},
                     "y":{"field":"t","type":"quantitative","scale":{"domain":[-136.5,373],"nice":false,"zero":false},"axis":null},"text":{"field":"name"}}}
      ]
    },
    {
      "layer": [
        {"data":{"name":"axisbox"},
         "mark":{"type":"rect","fill":"#f0f0f0","stroke":"#e3141b","strokeWidth":2.5,"clip":true},
         "encoding":{"x":{"field":"from","type":"quantitative","scale":{"domain":[4110,2000,380],"range":[11,489,1221],"nice":false,"zero":false},
                          "axis":{"orient":"bottom","offset":-39,"values":[4000,3600,3200,2800,2400,2000,1800,1600,1400,1200,1000,800,600,400],"format":"d","domain":false,"grid":false,"ticks":true,"tickSize":8,"tickWidth":1.5,"tickColor":"#3a3a3a","labelPadding":6,"labelBaseline":"top","labelAlign":"center","labelFont":"Liberation Sans","labelFontSize":12,"labelColor":"#555555","labelFlush":false,"labelOverlap":false,"labelBound":false,"title":"1/cm","titleX":1213,"titleY":36.5,"titleAlign":"right","titleBaseline":"alphabetic","titleFont":"Liberation Sans","titleFontSize":11.5,"titleFontWeight":"normal","titleColor":"#444444","titleAngle":0,"zindex":2}},
                     "x2":{"field":"to"},
                     "y":{"field":"top","type":"quantitative","scale":{"domain":[-19.5,490],"nice":false,"zero":false},"axis":null},
                     "y2":{"field":"bottom"}}},
        {"data":{"name":"axisbox"},
         "mark":{"type":"rect","opacity":0,"clip":true},
         "encoding":{"x":{"field":"from","type":"quantitative","scale":{"domain":[4110,2000,380],"range":[11,489,1221],"nice":false,"zero":false},
                          "axis":{"orient":"bottom","offset":-39,"values":[3920,3840,3760,3680,3520,3440,3360,3280,3120,3040,2960,2880,2720,2640,2560,2480,2320,2240,2160,2080,1960,1920,1880,1840,1760,1720,1680,1640,1560,1520,1480,1440,1360,1320,1280,1240,1160,1120,1080,1040,960,920,880,840,760,720,680,640,560,520,480,440],"domain":false,"grid":false,"ticks":true,"tickSize":5,"tickWidth":1.5,"tickColor":"#3a3a3a","labels":false,"title":null,"zindex":2}},
                     "x2":{"field":"to"},
                     "y":{"field":"top","type":"quantitative","scale":{"domain":[-19.5,490],"nice":false,"zero":false},"axis":null},
                     "y2":{"field":"bottom"}}},
        {"data":{"name":"spectra"},"transform":[{"filter":"datum.s==='CS'"}],
         "mark":{"type":"line","color":"#c41e24","strokeWidth":1.1},
         "encoding":{"x":{"field":"wn","type":"quantitative","scale":{"domain":[4110,2000,380],"range":[11,489,1221],"nice":false,"zero":false},"axis":null},
                     "y":{"field":"t","type":"quantitative","scale":{"domain":[-19.5,490],"nice":false,"zero":false},"axis":null}}},
        {"data":{"name":"markers"},"transform":[{"filter":"datum.s==='CS'"}],
         "mark":{"type":"rule","color":"#111111","strokeWidth":2},
         "encoding":{"x":{"field":"wn","type":"quantitative","scale":{"domain":[4110,2000,380],"range":[11,489,1221],"nice":false,"zero":false},"axis":null},
                     "y":{"field":"top","type":"quantitative","scale":{"domain":[-19.5,490],"nice":false,"zero":false},"axis":null},"y2":{"field":"bot"}}},
        {"data":{"name":"peaks"},"transform":[{"filter":"datum.s==='CS'"}],
         "mark":{"type":"point","shape":"M-1,-0.6H1V0.6H-1Z","size":5184,"filled":true,"fill":"white","stroke":"black","strokeWidth":2,"opacity":1},
         "encoding":{"x":{"field":"bx","type":"quantitative","scale":{"domain":[4110,2000,380],"range":[11,489,1221],"nice":false,"zero":false},"axis":null},
                     "y":{"field":"by","type":"quantitative","scale":{"domain":[-19.5,490],"nice":false,"zero":false},"axis":null}}},
        {"data":{"name":"peaks"},"transform":[{"filter":"datum.s==='CS'"}],
         "mark":{"type":"rule","color":"black","strokeWidth":2},
         "encoding":{"x":{"field":"wn","type":"quantitative","scale":{"domain":[4110,2000,380],"range":[11,489,1221],"nice":false,"zero":false},"axis":null},
                     "y":{"field":"tip","type":"quantitative","scale":{"domain":[-19.5,490],"nice":false,"zero":false},"axis":null},"y2":{"field":"foot"}}},
        {"data":{"name":"peaks"},"transform":[{"filter":"datum.s==='CS'"}],
         "mark":{"type":"text","font":"Liberation Serif","fontSize":16,"align":"center","baseline":"middle","color":"black"},
         "encoding":{"x":{"field":"tx","type":"quantitative","scale":{"domain":[4110,2000,380],"range":[11,489,1221],"nice":false,"zero":false},"axis":null},
                     "y":{"field":"by","type":"quantitative","scale":{"domain":[-19.5,490],"nice":false,"zero":false},"axis":null},"text":{"field":"label"}}},
        {"data":{"name":"names"},"transform":[{"filter":"datum.s==='CS'"}],
         "mark":{"type":"text","font":"Liberation Serif","fontSize":23,"fontStyle":"italic","align":"right","baseline":"alphabetic","color":"black"},
         "encoding":{"x":{"field":"wn","type":"quantitative","scale":{"domain":[4110,2000,380],"range":[11,489,1221],"nice":false,"zero":false},"axis":null},
                     "y":{"field":"t","type":"quantitative","scale":{"domain":[-19.5,490],"nice":false,"zero":false},"axis":null},"text":{"field":"name"}}}
      ],
      "resolve": {"axis": {"x": "independent"}}
    }
  ],
  "resolve": {"scale": {"y": "independent"}, "axis": {"x": "independent"}}
}
